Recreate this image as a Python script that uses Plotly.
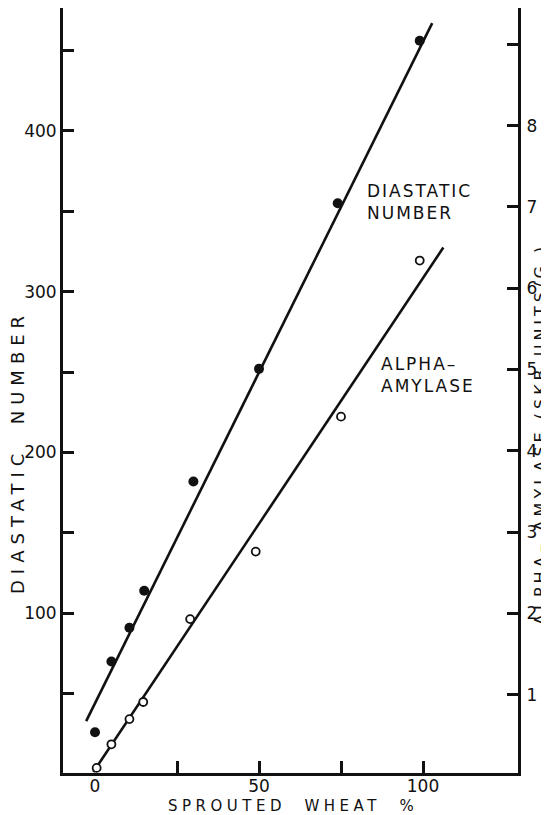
import plotly.graph_objects as go

# Sprouted wheat (%) and diastatic number (filled circles, left axis)
diastatic_x = [0, 5, 10.5, 15, 30, 50, 74, 99]
diastatic_y = [26, 70, 91, 114, 182, 252, 355, 456]
diastatic_fit_x = [-2.7, 102.8]
diastatic_fit_y = [33, 467]

# Sprouted wheat (%) and alpha-amylase SKB units/g (open circles, right axis)
amylase_x = [0.5, 5, 10.5, 14.7, 29, 49, 75, 99]
amylase_y = [0.10, 0.39, 0.70, 0.91, 1.93, 2.76, 4.42, 6.34]
amylase_fit_x = [-0.5, 106.2]
amylase_fit_y = [0.05, 6.50]

x_label_vals = [0, 50, 100]
x_tick_marks = [25, 50, 75, 100]
y_major = [100, 200, 300, 400]
y_minor = [50, 150, 250, 350, 450]
y2_vals = [1, 2, 3, 4, 5, 6, 7, 8, 9]
y2_text = ["1", "2", "3", "4", "5", "6", "7", "8", ""]

X_RANGE = [-9.76, 128.96]
Y_RANGE = [0.7, 476.4]
Y2_RANGE = [0.037, 9.446]

FONT = "DejaVu Sans"
INK = "#111111"

fig = go.Figure()
fig.add_trace(go.Scatter(x=diastatic_fit_x, y=diastatic_fit_y, mode="lines",
                         line=dict(color=INK, width=2.6), showlegend=False, hoverinfo="skip"))
fig.add_trace(go.Scatter(x=diastatic_x, y=diastatic_y, mode="markers",
                         marker=dict(symbol="circle", size=10, color=INK), showlegend=False))
fig.add_trace(go.Scatter(x=amylase_fit_x, y=amylase_fit_y, mode="lines", xaxis="x2", yaxis="y2",
                         line=dict(color=INK, width=2.6), showlegend=False, hoverinfo="skip"))
fig.add_trace(go.Scatter(x=amylase_x, y=amylase_y, mode="markers", xaxis="x2", yaxis="y2",
                         marker=dict(symbol="circle", size=8, color="white",
                                     line=dict(color=INK, width=1.8)), showlegend=False))

def ls(text, sp):
    return f'<span style="letter-spacing:{sp}px">{text}</span>'

fig.update_layout(
    width=541, height=807,
    margin=dict(l=55, r=31, t=0, b=42),
    paper_bgcolor="white", plot_bgcolor="white",
    font=dict(family=FONT, color=INK, size=16),
    xaxis=dict(range=X_RANGE, tickvals=x_label_vals, ticks="", showgrid=False, zeroline=False,
               showline=True, linecolor=INK, linewidth=3, tickfont=dict(size=17),
               ticklabelstandoff=-4),
    xaxis2=dict(range=X_RANGE, overlaying="x", anchor="y", side="bottom", tickvals=x_tick_marks,
                ticks="inside", ticklen=12, tickwidth=3, tickcolor=INK, showticklabels=False,
                showgrid=False, zeroline=False, showline=False),
    yaxis=dict(range=Y_RANGE, tickvals=y_major, ticks="inside", ticklen=11, tickwidth=3,
               tickcolor=INK, showgrid=False, zeroline=False, showline=True, linecolor=INK,
               linewidth=3, tickfont=dict(size=17), ticklabelstandoff=0,
               minor=dict(tickvals=y_minor, ticks="inside", ticklen=11, tickwidth=3, tickcolor=INK)),
    yaxis2=dict(range=Y2_RANGE, overlaying="y", anchor="x2", side="right", tickvals=y2_vals,
                ticktext=y2_text, ticks="inside", ticklen=11, tickwidth=3, tickcolor=INK,
                showgrid=False, zeroline=False, showline=True, linecolor=INK, linewidth=3,
                tickfont=dict(size=17), ticklabelstandoff=2),
    annotations=[
        dict(text=ls("DIASTATIC", 2) + "<br>" + ls("NUMBER", 2), xref="paper", yref="paper",
             x=0.6637, y=0.7765, xanchor="left", yanchor="top", align="left",
             showarrow=False, font=dict(size=17)),
        dict(text=ls("ALPHA–", 2) + "<br>" + ls("AMYLASE", 2), xref="paper", yref="paper",
             x=0.6945, y=0.5503, xanchor="left", yanchor="top", align="left",
             showarrow=False, font=dict(size=17)),
        dict(text=ls("DIASTATIC  NUMBER", 6), xref="paper", yref="paper",
             x=-0.1011, y=0.4196, xanchor="center", yanchor="middle", textangle=-90,
             showarrow=False, font=dict(size=18)),
        dict(text=ls("ALPHA– AMYLASE (SKB UNITS/G.)", 4), xref="paper", yref="paper",
             x=1.048, y=0.443, xanchor="center", yanchor="middle", textangle=-90,
             showarrow=False, font=dict(size=16)),
        dict(text=ls("SPROUTED  WHEAT  %", 4.5), xref="paper", yref="paper",
             x=0.5055, y=-0.0435, xanchor="center", yanchor="middle",
             showarrow=False, font=dict(size=15)),
    ],
)

fig.write_html("out.html")
